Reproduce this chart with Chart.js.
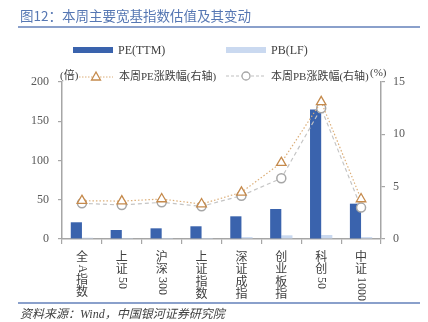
<!DOCTYPE html>
<html>
<head>
<meta charset="utf-8">
<script src="https://cdn.jsdelivr.net/npm/chart.js@4"></script>
<style>
  body { margin: 0; background: #fff; }
  #wrap { position: relative; width: 428px; height: 322px; overflow: hidden; }
  #myChart { position: absolute; left: 0; top: 0; }
  .txt { position: absolute; font-family: "Liberation Serif", "Noto Sans CJK SC", serif; font-size: 12px; color: #404040; white-space: nowrap; line-height: 14px; }
  .sm { font-size: 11px; }
  #title { position: absolute; left: 20px; top: 5px; font-family: "Noto Sans CJK SC", sans-serif; font-size: 13.5px; color: #5677b3; white-space: nowrap; }
  .rule { position: absolute; left: 18px; width: 402px; height: 1.5px; background: #8aa0cb; }
  #source { position: absolute; left: 20px; top: 304px; font-family: "Liberation Serif", "Noto Sans CJK SC", serif; font-style: italic; font-size: 12px; color: #404040; white-space: nowrap; }
  svg { position: absolute; }
</style>
</head>
<body>
<div id="wrap">
  <canvas id="myChart" width="428" height="322"></canvas>
  <div id="title">图12：本周主要宽基指数估值及其变动</div>
  <div class="rule" style="top:26px"></div>

  <!-- legend row one -->
  <div style="position:absolute;left:73px;top:47px;width:40px;height:6px;background:#3a63ad"></div>
  <div class="txt" style="left:118px;top:43px">PE(TTM)</div>
  <div style="position:absolute;left:226px;top:47px;width:40px;height:6px;background:#cad9f0"></div>
  <div class="txt" style="left:271px;top:43px">PB(LF)</div>

  <!-- legend row two -->
  <div class="txt sm" style="left:60px;top:68px">(倍)</div>
  <svg style="left:79px;top:70px" width="34" height="12">
    <line x1="0" y1="7" x2="34" y2="7" stroke="#dcae78" stroke-width="1" stroke-dasharray="1.5,1.5"/>
    <polygon points="17,2 21.5,10 12.5,10" fill="#fff" stroke="#c58a4c" stroke-width="1.3"/>
  </svg>
  <div class="txt sm" style="left:119px;top:69px">本周PE涨跌幅(右轴)</div>
  <svg style="left:226px;top:70px" width="40" height="12">
    <line x1="0" y1="6" x2="40" y2="6" stroke="#bfbfbf" stroke-width="1" stroke-dasharray="3,2"/>
    <circle cx="20" cy="6" r="4" fill="#fff" stroke="#a6a6a6" stroke-width="1.3"/>
  </svg>
  <div class="txt sm" style="left:271px;top:69px">本周PB涨跌幅(右轴)</div>
  <div class="txt sm" style="left:370px;top:65px">(%)</div>

  <div class="rule" style="top:302px"></div>
  <div id="source">资料来源：Wind，中国银河证券研究院</div>
</div>

<script>
'use strict';

//***************** Data *****************
let categories = ['全A指数', '上证50', '沪深300', '上证指数', '深证成指', '创业板指', '科创50', '中证1000'];
let peValues = [21.3, 11.5, 13.6, 16.2, 28.9, 38.2, 165, 45];
let pbValues = [1.6, 1.2, 1.3, 1.3, 2.4, 4.7, 5.1, 2.4];
let peChange = [3.66, 3.62, 3.82, 3.34, 4.46, 7.29, 13.1, 3.82];
let pbChange = [3.41, 3.25, 3.5, 3.12, 4.14, 5.8, 12.5, 3.0];
let leftTicks = [0, 50, 100, 150, 200];
let rightTicks = [0, 5, 10, 15];

Chart.defaults.font.family = '"Liberation Serif", "Noto Sans CJK SC", serif';
Chart.defaults.font.size = 12;
Chart.defaults.color = '#595959';

let ctx = document.getElementById('myChart');

// vertical category labels, chinese upright and digits turned on their side
let verticalLabels = {
  id: 'verticalLabels',
  afterDraw(chart) {
    let c = chart.ctx;
    let xs = chart.scales.x;
    c.save();
    c.fillStyle = '#404040';
    for (let i = 0; i < categories.length; i++) {
      let x = xs.getPixelForValue(i);
      let y = xs.top + 12;
      let parts = categories[i].match(/[A-Za-z0-9]+|./g);
      for (let p of parts) {
        if (/^[A-Za-z0-9]+$/.test(p)) {
          c.font = '12px "Liberation Serif"';
          let w = c.measureText(p).width;
          c.save();
          c.translate(x, y + 1);
          c.rotate(Math.PI / 2);
          c.textAlign = 'left';
          c.textBaseline = 'middle';
          c.fillText(p, 0, 0);
          c.restore();
          y += w + 2;
        } else {
          c.font = '12px "Noto Sans CJK SC"';
          c.textAlign = 'center';
          c.textBaseline = 'top';
          c.fillText(p, x, y - 1);
          y += 12.5;
        }
      }
    }
    c.restore();
  }
};

let myChartObj = {
  type: 'bar',
  data: {
    labels: categories,
    datasets: [{
      type: 'line',
      label: '本周PE涨跌幅(右轴)',
      data: peChange,
      yAxisID: 'y1',
      order: 0,
      borderColor: '#dcae78',
      borderWidth: 1.2,
      borderDash: [1.5, 2],
      pointStyle: 'triangle',
      pointRadius: 5.5,
      pointBackgroundColor: '#ffffff',
      pointBorderColor: '#c58a4c',
      pointBorderWidth: 1.3,
      tension: 0
    },
    {
      type: 'line',
      label: '本周PB涨跌幅(右轴)',
      data: pbChange,
      yAxisID: 'y1',
      order: 0,
      borderColor: '#c4c4c4',
      borderWidth: 1.2,
      borderDash: [4, 3],
      pointStyle: 'circle',
      pointRadius: 4.5,
      pointBackgroundColor: '#ffffff',
      pointBorderColor: '#a6a6a6',
      pointBorderWidth: 1.5,
      tension: 0
    },
    {
      label: 'PE(TTM)',
      data: peValues,
      yAxisID: 'y',
      order: 1,
      backgroundColor: '#3a63ad',
      barPercentage: 1,
      categoryPercentage: 0.56
    },
    {
      label: 'PB(LF)',
      data: pbValues,
      yAxisID: 'y',
      order: 1,
      backgroundColor: '#cad9f0',
      barPercentage: 1,
      categoryPercentage: 0.56
    }]
  },
  options: {
    responsive: false,
    animation: false,
    layout: { padding: { top: 82, left: 0, right: 0, bottom: 0 } },
    plugins: {
      legend: { display: false },
      tooltip: { enabled: false }
    },
    scales: {
      x: {
        afterFit(scale) { scale.height = 83; },
        ticks: { display: false },
        grid: { offset: true, drawOnChartArea: false, drawTicks: true, tickLength: 5, color: '#a6a6a6', lineWidth: 1.2 },
        border: { color: '#a6a6a6', width: 1.5 }
      },
      y: {
        position: 'left',
        min: 0,
        max: 200,
        afterFit(scale) { scale.width = 62; },
        afterBuildTicks(scale) { scale.ticks = leftTicks.map(v => ({ value: v })); },
        ticks: { padding: 9, color: '#595959' },
        grid: { drawOnChartArea: false, drawTicks: true, tickLength: 4, color: '#a6a6a6', lineWidth: 1.2 },
        border: { color: '#a6a6a6', width: 1.5 }
      },
      y1: {
        position: 'right',
        min: 0,
        max: 15,
        afterFit(scale) { scale.width = 47; },
        afterBuildTicks(scale) { scale.ticks = rightTicks.map(v => ({ value: v })); },
        ticks: { padding: 8, color: '#595959' },
        grid: { drawOnChartArea: false, drawTicks: true, tickLength: 4, color: '#a6a6a6', lineWidth: 1.2 },
        border: { color: '#a6a6a6', width: 1.5 }
      }
    }
  },
  plugins: [verticalLabels]
};

new Chart(ctx, myChartObj);
</script>
</body>
</html>
